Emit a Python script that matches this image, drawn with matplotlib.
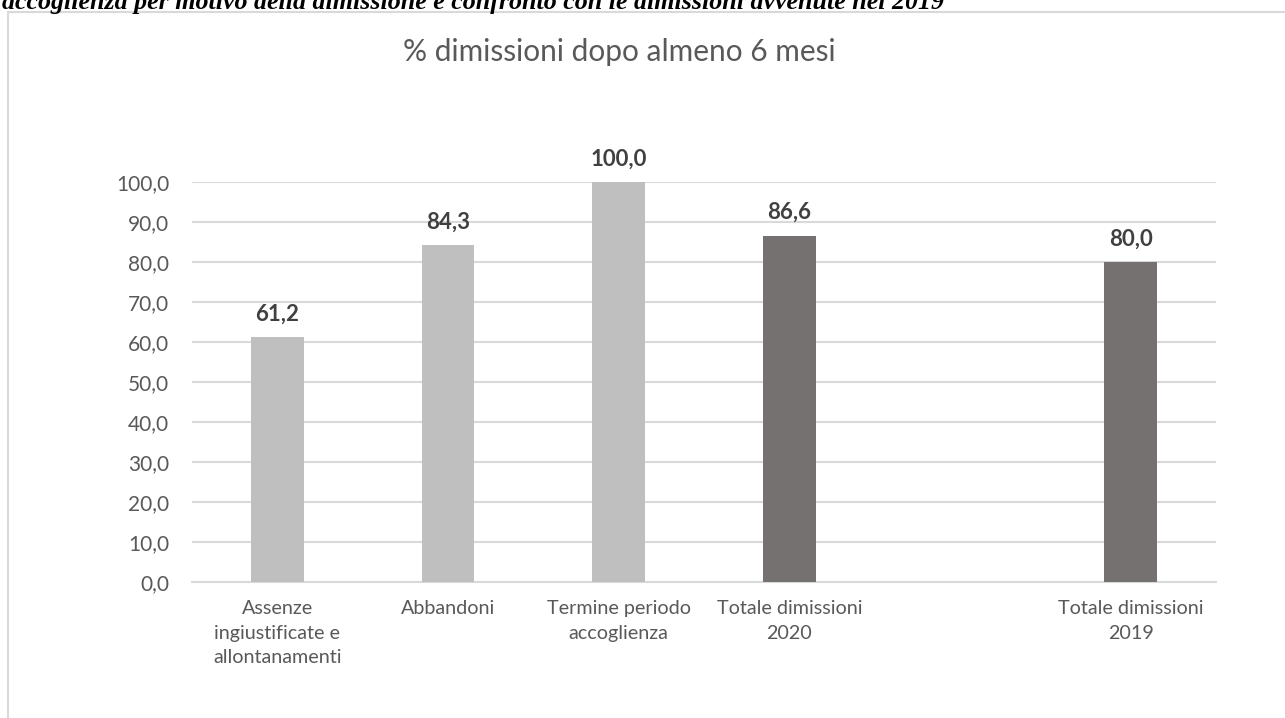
import numpy as np
import matplotlib
matplotlib.use("Agg")
import matplotlib.pyplot as plt
from matplotlib.lines import Line2D

# data
categorie = ["Assenze\ningiustificate e\nallontanamenti", "Abbandoni",
             "Termine periodo\naccoglienza", "Totale dimissioni\n2020",
             "", "Totale dimissioni\n2019"]
valori = [61.2, 84.3, 100.0, 86.6, np.nan, 80.0]
gruppo = ["motivo", "motivo", "motivo", "totale", "", "totale"]

titolo = "% dimissioni dopo almeno 6 mesi"
intestazione = ("accoglienza per motivo della dimissione e confronto con le "
                "dimissioni avvenute nel 2019")

colori = {"motivo": "#BFBFBF", "totale": "#767171", "": "none"}
grigio_testo = "#595959"

plt.rcParams['font.family'] = ['Lato', 'DejaVu Sans']

W, H = 1285, 718
fig = plt.figure(figsize=(W / 100, H / 100), dpi=100)
fig.patch.set_facecolor("white")

# page header, cut off at the top edge like in the original
fig.text(2 / W, 1 - 9 / H, intestazione, ha="left", va="baseline",
         fontsize=18.7, fontweight="bold", fontstyle="italic",
         family="Liberation Serif", color="black")

# chart frame (left and top borders)
fig.add_artist(Line2D([8 / W, 8 / W], [0, 1 - 12 / H], transform=fig.transFigure,
                      color="#D9D9D9", lw=1.5))
fig.add_artist(Line2D([8 / W, 1], [1 - 12 / H, 1 - 12 / H], transform=fig.transFigure,
                      color="#D9D9D9", lw=1.5))

ax = fig.add_axes([192 / W, 1 - 582 / H, (1216 - 192) / W, (582 - 182) / H])
x = np.arange(len(categorie))
ax.bar(x, valori, width=0.31, color=[colori[g] for g in gruppo], zorder=3)

ax.set_xlim(-0.5, len(categorie) - 0.5)
ax.set_ylim(0, 100)
ax.set_yticks(np.arange(0, 101, 10))
ax.set_yticklabels([f"{v:.1f}".replace(".", ",") for v in np.arange(0, 101, 10)])
ax.yaxis.grid(True, color="#D9D9D9", lw=1.5, zorder=0)
ax.set_axisbelow(True)
ax.tick_params(axis="y", length=0, pad=16.5, labelsize=15, labelcolor=grigio_testo)
ax.set_xticks(x)
ax.set_xticklabels(categorie, linespacing=1.55)
ax.tick_params(axis="x", length=0, pad=13, labelsize=14.2, labelcolor=grigio_testo)
for s in ax.spines.values():
    s.set_visible(False)
ax.spines["bottom"].set_visible(True)
ax.spines["bottom"].set_color("#D9D9D9")
ax.spines["bottom"].set_linewidth(1.5)

for xi, v in zip(x, valori):
    if np.isnan(v):
        continue
    ax.annotate(f"{v:.1f}".replace(".", ","), (xi, v), xytext=(0, 9),
                textcoords="offset points", ha="center", va="bottom",
                fontsize=16, fontweight="bold", color="#404040", clip_on=False)

fig.text(619 / W, 1 - 52 / H, titolo, ha="center", va="center",
         fontsize=21.5, color=grigio_testo)

fig.savefig("out.png", dpi=100)
